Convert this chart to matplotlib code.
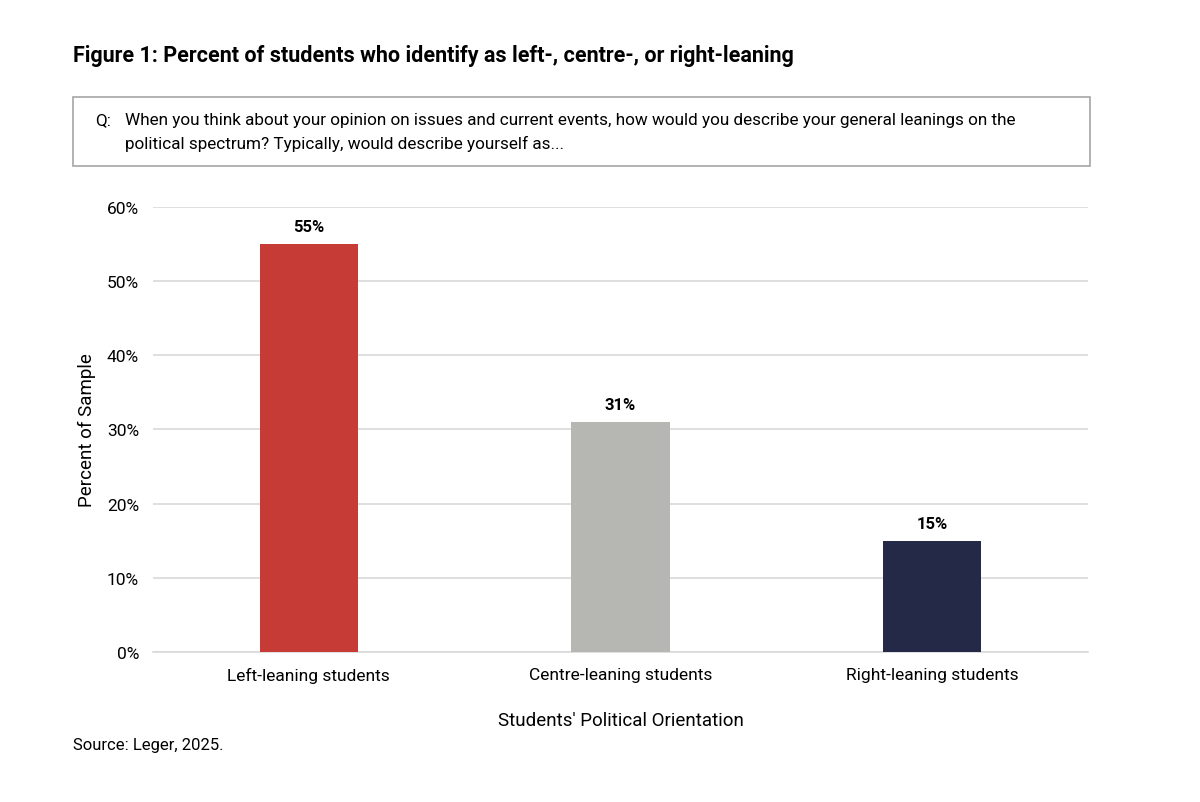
import matplotlib.pyplot as plt
from matplotlib.patches import Rectangle

categories = ['Left-leaning students', 'Centre-leaning students', 'Right-leaning students']
values = [55, 31, 15]
colors = ['#C63B36', '#B6B7B2', '#232946']
yticks = [0, 10, 20, 30, 40, 50, 60]

plt.rcParams['font.family'] = ['Roboto', 'DejaVu Sans']

fig = plt.figure(figsize=(12, 8.03), dpi=100)
ax = fig.add_axes([0.1275, 0.1868, 0.7792, 0.5542])

ax.bar(range(len(categories)), values, width=0.315, color=colors, zorder=3)
for i, v in enumerate(values):
    ax.text(i, v + 1.3, f'{v}%', ha='center', va='bottom', fontsize=12, fontweight='bold', color='black')

ax.set_xlim(-0.5, 2.5)
ax.set_ylim(0, 60)
ax.set_yticks(yticks)
ax.set_yticklabels([f'{t}%' for t in yticks], fontsize=12.5)
ax.set_xticks(range(len(categories)))
ax.set_xticklabels(categories, fontsize=12.5)
ax.yaxis.grid(True, color='#D9D9D9', linewidth=1.2, zorder=0)
ax.tick_params(axis='y', length=0, pad=10)
ax.tick_params(axis='x', length=0, pad=11)
for s in ['top', 'right', 'left']:
    ax.spines[s].set_visible(False)
ax.spines['bottom'].set_color('#D9D9D9')
ax.spines['bottom'].set_linewidth(1.2)

ax.set_ylabel('Percent of Sample', fontsize=13.5, labelpad=8)
ax.set_xlabel("Students' Political Orientation", fontsize=13.5, labelpad=20)

fig.text(73 / 1200, 1 - 56 / 803, 'Figure 1: Percent of students who identify as left-, centre-, or right-leaning',
         fontsize=15.5, fontweight='bold', va='center', ha='left')

box = Rectangle((73 / 1200, 1 - 167 / 803), (1090 - 73) / 1200, (167 - 98) / 803,
                transform=fig.transFigure, facecolor='white', edgecolor='#A6A6A6', linewidth=1.2)
fig.patches.append(box)
fig.text(95 / 1200, 1 - 121 / 803, 'Q:', fontsize=12.3, va='center', ha='left')
fig.text(125 / 1200, 1 - 121 / 803, 'When you think about your opinion on issues and current events, how would you describe your general leanings on the',
         fontsize=12.3, va='center', ha='left')
fig.text(125 / 1200, 1 - 144 / 803, 'political spectrum? Typically, would describe yourself as...',
         fontsize=12.3, va='center', ha='left')

fig.text(73 / 1200, 1 - 746 / 803, 'Source: Leger, 2025.', fontsize=12, va='center', ha='left')

fig.savefig('out.png', dpi=100, facecolor='white')
